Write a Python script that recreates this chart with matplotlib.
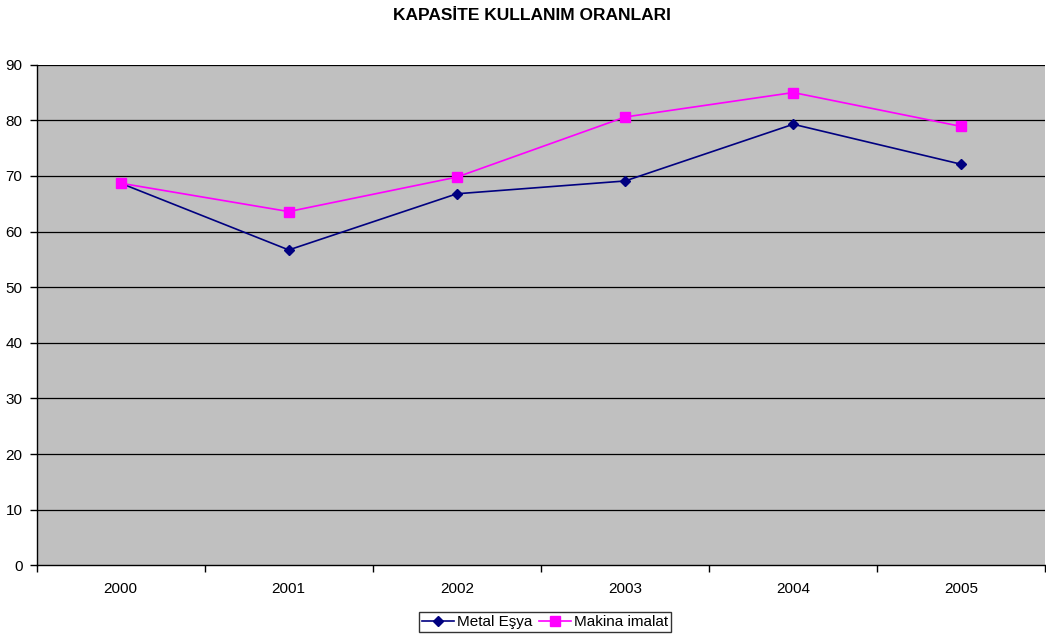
import numpy as np
import matplotlib.pyplot as plt
from matplotlib.ticker import FixedLocator

plt.rcParams['font.family'] = ['Liberation Sans', 'DejaVu Sans']

## DATA
years = ['2000', '2001', '2002', '2003', '2004', '2005']
metal_esya = [68.7, 56.7, 66.8, 69.1, 79.3, 72.1]
makina_imalat = [68.7, 63.6, 69.8, 80.6, 85.0, 78.9]

x = np.arange(len(years))

fig = plt.figure(figsize=(10.46, 6.39), dpi=100)
ax = fig.add_axes([0.0349, 0.1153, 0.9646, 0.7834])
ax.set_facecolor('#C0C0C0')

# gridlines every 10
for v in range(10, 100, 10):
    ax.axhline(v, color='black', lw=0.9, zorder=1)

ax.plot(x, metal_esya, color='#000080', marker='D', markersize=5.5, lw=1.2,
        label='Metal Eşya', zorder=3)
ax.plot(x, makina_imalat, color='#FF00FF', marker='s', markersize=6.5, lw=1.2,
        label='Makina imalat', zorder=3)

ax.set_xlim(-0.5, len(years) - 0.5)
ax.set_ylim(0, 90)
ax.set_yticks(range(0, 100, 10))
ax.set_xticks(x)
ax.set_xticklabels(years)
ax.xaxis.set_minor_locator(FixedLocator(np.arange(-0.5, len(years), 1)))
ax.tick_params(axis='x', which='major', length=0, pad=12, labelsize=11)
ax.tick_params(axis='x', which='minor', length=5, width=1, direction='out')
ax.tick_params(axis='y', length=5, width=1, direction='out', pad=5, labelsize=11)

for s in ['top', 'right']:
    ax.spines[s].set_visible(False)
ax.spines['left'].set_linewidth(1)
ax.spines['bottom'].set_linewidth(1)

fig.suptitle('KAPASİTE KULLANIM ORANLARI', fontsize=12.5, fontweight='bold',
             x=0.509, y=0.987)

leg = fig.legend(loc='center', bbox_to_anchor=(0.521, 0.0265), ncol=2, fontsize=11,
                 frameon=True, fancybox=False, edgecolor='black', handlelength=2.1,
                 handletextpad=0.2, columnspacing=0.4, borderpad=0.2)
leg.get_frame().set_linewidth(1)

fig.savefig('out.png', dpi=100)
